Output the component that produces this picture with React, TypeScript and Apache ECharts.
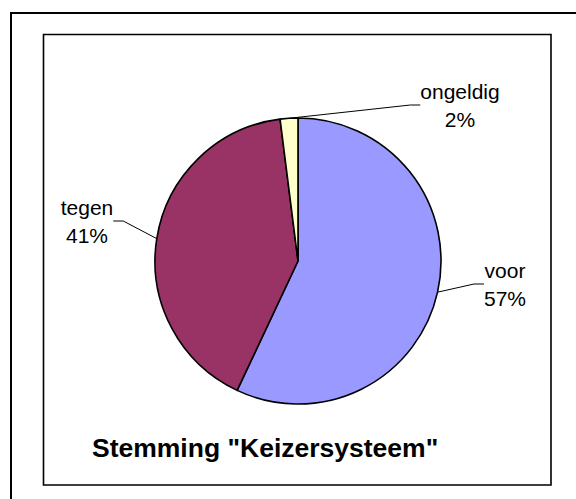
import React, { useEffect, useRef } from "react";
import * as echarts from "echarts";

const categories = ["voor", "tegen", "ongeldig"];
const values = [57, 41, 2];
const colors = ["#9999FF", "#993366", "#FFFFCC"];
const titleText = 'Stemming "Keizersysteem"';

// label anchor positions (centre of each two-line label block)
const labelPos = [
  { x: 505, y: 284 },
  { x: 87, y: 221 },
  { x: 460, y: 105 },
];

export default function App() {
  const ref = useRef<HTMLDivElement>(null);
  useEffect(() => {
    const chart = echarts.init(ref.current!, null, { renderer: "svg" });
    chart.setOption({
      animation: false,
      backgroundColor: "#ffffff",
      graphic: [
        {
          type: "rect",
          shape: { x: 11, y: 13, width: 700, height: 700 },
          style: { fill: "none", stroke: "#000", lineWidth: 2 },
          silent: true,
        },
        {
          type: "rect",
          shape: { x: 43.5, y: 34.5, width: 507.5, height: 450.5 },
          style: { fill: "none", stroke: "#000", lineWidth: 1.6 },
          silent: true,
        },
        {
          type: "text",
          x: 92,
          y: 448,
          style: {
            text: titleText,
            font: "bold 26.5px 'Liberation Sans', Arial, sans-serif",
            fill: "#000",
            align: "left",
            verticalAlign: "middle",
          },
        },
      ],
      series: [
        {
          type: "pie",
          center: [298, 261],
          radius: 143,
          startAngle: 90,
          clockwise: true,
          data: categories.map((c, i) => ({
            name: c,
            value: values[i],
            itemStyle: { color: colors[i] },
          })),
          itemStyle: { borderColor: "#000", borderWidth: 1.6 },
          label: {
            show: true,
            position: "outside",
            formatter: "{b}\n{d}%",
            fontFamily: "'Liberation Sans', Arial, sans-serif",
            fontSize: 21,
            lineHeight: 28,
            color: "#000",
            align: "center",
          },
          labelLine: {
            show: true,
            length: 10,
            length2: 10,
            smooth: false,
            lineStyle: { color: "#000", width: 1 },
          },
          labelLayout: (params: any) => {
            const p = labelPos[params.dataIndex];
            return { x: p.x, y: p.y, align: "center", verticalAlign: "middle" };
          },
          emphasis: { disabled: true },
        },
      ],
    });
    return () => chart.dispose();
  }, []);
  return (
    <div
      ref={ref}
      style={{ position: "fixed", left: 0, top: 0, width: 576, height: 499 }}
    />
  );
}
